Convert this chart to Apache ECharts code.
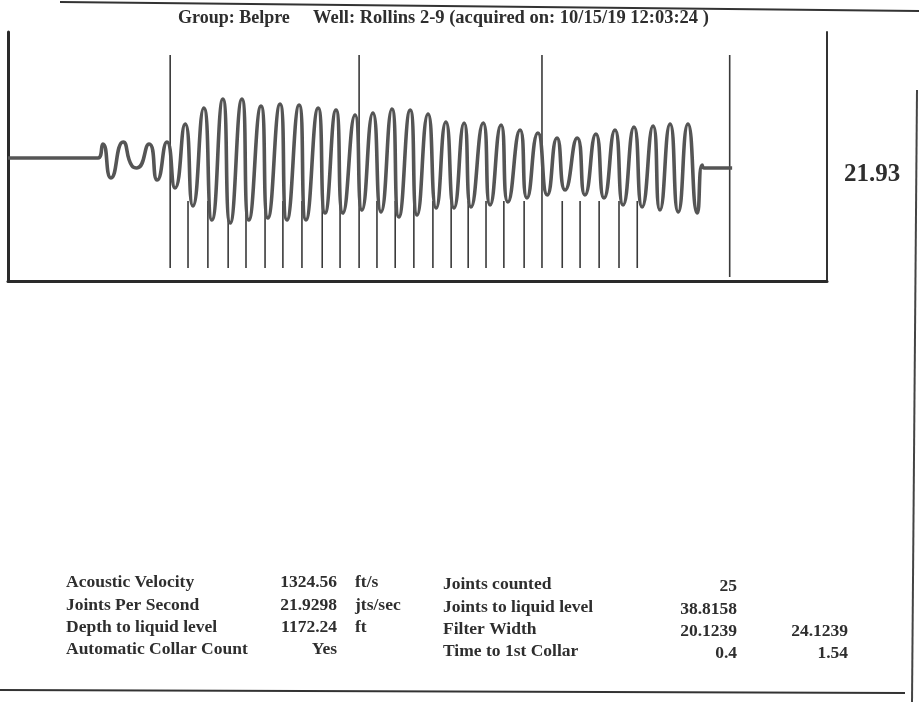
<!DOCTYPE html>
<html>
<head>
<meta charset="utf-8">
<script src="https://cdn.jsdelivr.net/npm/echarts@6/dist/echarts.min.js"></script>
<style>
  html, body { margin: 0; padding: 0; background: #fff; }
  #main { width: 919px; height: 702px; }
</style>
</head>
<body>
<div id="main"></div>
<script>
// acoustic trace: time (s) and amplitude
var waveTime = [0, 0.222, 0.234, 0.254, 0.284, 0.306, 0.318, 0.348, 0.368, 0.392, 0.412,
  0.437, 0.456, 0.483, 0.503, 0.530, 0.548, 0.577, 0.594, 0.624, 0.641, 0.671, 0.688,
  0.718, 0.735, 0.765, 0.782, 0.809, 0.826, 0.856, 0.873, 0.900, 0.920, 0.947, 0.964,
  0.992, 1.009, 1.036, 1.056, 1.080, 1.100, 1.125, 1.142, 1.172, 1.189, 1.216, 1.233,
  1.263, 1.280, 1.307, 1.330, 1.354, 1.374, 1.404, 1.423, 1.450, 1.470, 1.497, 1.517,
  1.544, 1.564, 1.591, 1.608, 1.633, 1.653, 1.677, 1.700, 1.712, 1.717, 1.786];
var waveAmp = [0.07, 0.07, 0.21, -0.13, 0.23, -0.01, -0.03, 0.21, -0.15, 0.23, -0.23,
  0.41, -0.41, 0.57, -0.55, 0.66, -0.58, 0.66, -0.55, 0.59, -0.53, 0.61, -0.55,
  0.60, -0.55, 0.57, -0.48, 0.55, -0.48, 0.50, -0.45, 0.52, -0.47, 0.56, -0.52,
  0.55, -0.50, 0.51, -0.43, 0.43, -0.43, 0.42, -0.42, 0.42, -0.40, 0.40, -0.37,
  0.35, -0.33, 0.32, -0.30, 0.27, -0.25, 0.27, -0.30, 0.31, -0.33, 0.35, -0.40,
  0.38, -0.42, 0.39, -0.45, 0.41, -0.47, 0.41, -0.48, 0, -0.03, -0.03];

// collar markers (s), every 10th drawn tall
var collarTime = [0.400, 0.444, 0.493, 0.543, 0.587, 0.634, 0.678, 0.725, 0.775, 0.819,
  0.866, 0.910, 0.955, 1.001, 1.048, 1.093, 1.135, 1.179, 1.223, 1.273,
  1.317, 1.367, 1.411, 1.458, 1.507, 1.552];
var liquidTime = 1.78;
var jointsPerSec = '21.93';

var titleGroup = 'Group: Belpre';
var titleWell = 'Well: Rollins 2-9 (acquired on: 10/15/19 12:03:24 )';

var labelsA = ['Acoustic Velocity', 'Joints Per Second', 'Depth to liquid level', 'Automatic Collar Count'];
var valuesA = ['1324.56', '21.9298', '1172.24', 'Yes'];
var unitsA = ['ft/s', 'jts/sec', 'ft', ''];
var labelsB = ['Joints counted', 'Joints to liquid level', 'Filter Width', 'Time to 1st Collar'];
var valuesB = ['25', '38.8158', '20.1239', '0.4'];
var valuesC = ['', '', '24.1239', '1.54'];

var chart = echarts.init(document.getElementById('main'));

var FONT = 'bold 17.5px "Liberation Serif", "DejaVu Serif", serif';
var INK = '#2e2e2e';

function txt(s, x, y, align, font) {
  return {
    type: 'text', x: x, y: y, silent: true,
    style: { text: s, font: font || FONT, fill: INK, align: align || 'left', verticalAlign: 'middle' }
  };
}

var graphics = [];
// scanned page borders
graphics.push({ type: 'line', shape: { x1: 60, y1: 2, x2: 919, y2: 11 }, style: { stroke: '#333', lineWidth: 2 } });
graphics.push({ type: 'line', shape: { x1: 917, y1: 90, x2: 912, y2: 702 }, style: { stroke: '#444', lineWidth: 2 } });
graphics.push({ type: 'line', shape: { x1: 0, y1: 690, x2: 905, y2: 693 }, style: { stroke: '#333', lineWidth: 2 } });

graphics.push(txt(titleGroup, 178, 18, 'left', 'bold 18px "Liberation Serif", serif'));
graphics.push(txt(titleWell, 313, 18, 'left', 'bold 18.5px "Liberation Serif", serif'));
graphics.push(txt(jointsPerSec, 872, 175, 'center', 'bold 25px "Liberation Serif", serif'));

var rowY = [582, 605, 627, 649];
for (var i = 0; i < 4; i++) {
  var y = rowY[i];
  graphics.push(txt(labelsA[i], 66, y));
  graphics.push(txt(valuesA[i], 337, y, 'right'));
  graphics.push(txt(unitsA[i], 355, y));
  graphics.push(txt(labelsB[i], 443, y + 2));
  graphics.push(txt(valuesB[i], 737, y + 4, 'right'));
  graphics.push(txt(valuesC[i], 848, y + 4, 'right'));
}

var markerData = collarTime.map(function (t, i) { return [t, i % 10 === 0 ? 1 : 0]; });
markerData.push([liquidTime, 2]);

var option = {
  animation: false,
  grid: { left: 8, right: 92, top: 32, bottom: 421 },
  xAxis: {
    type: 'value', min: 0, max: 2.02,
    axisLine: { show: true, onZero: false, lineStyle: { color: '#2a2a2a', width: 3 } },
    axisTick: { show: false }, axisLabel: { show: false }, splitLine: { show: false }
  },
  yAxis: [{
    type: 'value', min: -1.16, max: 1.33,
    axisLine: { show: true, onZero: false, lineStyle: { color: '#2a2a2a', width: 3 } },
    axisTick: { show: false }, axisLabel: { show: false }, splitLine: { show: false }
  }, {
    type: 'value', min: -1.16, max: 1.33, position: 'right',
    axisLine: { show: true, onZero: false, lineStyle: { color: '#333', width: 2 } },
    axisTick: { show: false }, axisLabel: { show: false }, splitLine: { show: false }
  }],
  graphic: graphics,
  series: [{
    type: 'custom',
    data: markerData,
    renderItem: function (params, api) {
      var t = api.value(0);
      var kind = api.value(1);
      var top = kind === 0 ? -0.36 : 1.1;
      var bottom = kind === 2 ? -1.12 : -1.03;
      var p1 = api.coord([t, top]);
      var p2 = api.coord([t, bottom]);
      return {
        type: 'line',
        shape: { x1: p1[0], y1: p1[1], x2: p2[0], y2: p2[1] },
        style: { stroke: '#3a3a3a', lineWidth: 1.6 }
      };
    },
    z: 1
  }, {
    type: 'line',
    data: waveTime.map(function (t, i) { return [t, waveAmp[i]]; }),
    smooth: 0.6,
    showSymbol: false,
    lineStyle: { color: '#555', width: 3.6 },
    z: 2
  }]
};

chart.setOption(option);
</script>
</body>
</html>
